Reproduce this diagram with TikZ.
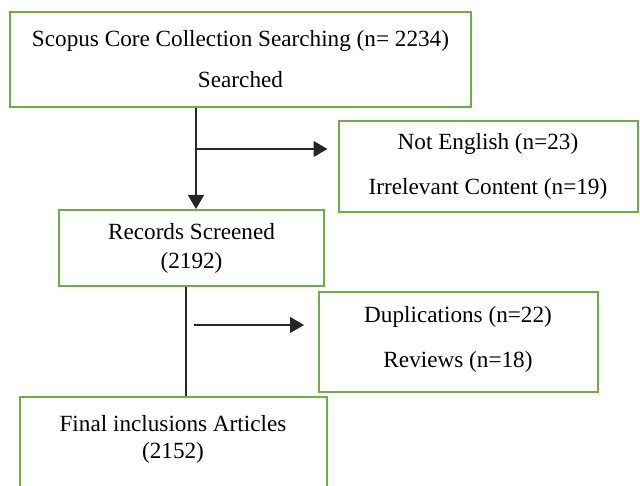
\documentclass[tikz,border=0pt]{standalone}
\usepackage{fontspec}
\setmainfont{Liberation Serif}
\usetikzlibrary{arrows.meta}
\definecolor{boxgreen}{RGB}{112,173,71}
\begin{document}
\begin{tikzpicture}[x=1pt,y=-1pt,
  flowbox/.style={draw=boxgreen, line width=2pt, rectangle, inner sep=0pt, align=center},
  lead/.style={font=\fontsize{23.2}{#1}\selectfont},
  label/.style={align=center, inner sep=0pt},
  conn/.style={draw=black!85, line width=1.2pt},
  arr/.style={conn, -{Triangle[length=14pt,width=16pt]}}]
\useasboundingbox (0,0) rectangle (640,486);

% boxes
\node[flowbox, lead=41, minimum width=461pt, minimum height=95pt] (search) at (240.5,59.5)
  {Scopus Core Collection Searching (n= 2234)\\ Searched};
\node[flowbox, lead=45, minimum width=299pt, minimum height=91pt] (excl1) at (488,166.5)
  {Not English (n=23)\\ Irrelevant Content (n=19)};
\node[flowbox, lead=29, minimum width=265pt, minimum height=76pt] (screen) at (191.5,248)
  {Records Screened\\ (2192)};
\node[flowbox, minimum width=279pt, minimum height=100pt] (excl2) at (458.5,342) {};
\node[label, lead=45] (excl2text) at (458,339.5)
  {Duplications (n=22)\\ Reviews (n=18)};
\node[flowbox, minimum width=307pt, minimum height=110pt] (final) at (173.5,452) {};
\node[label, lead=27] (finaltext) at (173,439)
  {Final inclusions Articles\\ (2152)};

% connectors
\coordinate (j1) at (196,149);
\coordinate (j2) at (186,325);
\draw[arr] (search.south -| j1) -- (screen.north -| j1);
\draw[arr, shorten >=10pt] (j1) -- (j1 -| excl1.west);
\draw[conn] (screen.south -| j2) -- (final.north -| j2);
\draw[arr, shorten <=8pt, shorten >=14pt] (j2) -- (j2 -| excl2.west);
\end{tikzpicture}
\end{document}
